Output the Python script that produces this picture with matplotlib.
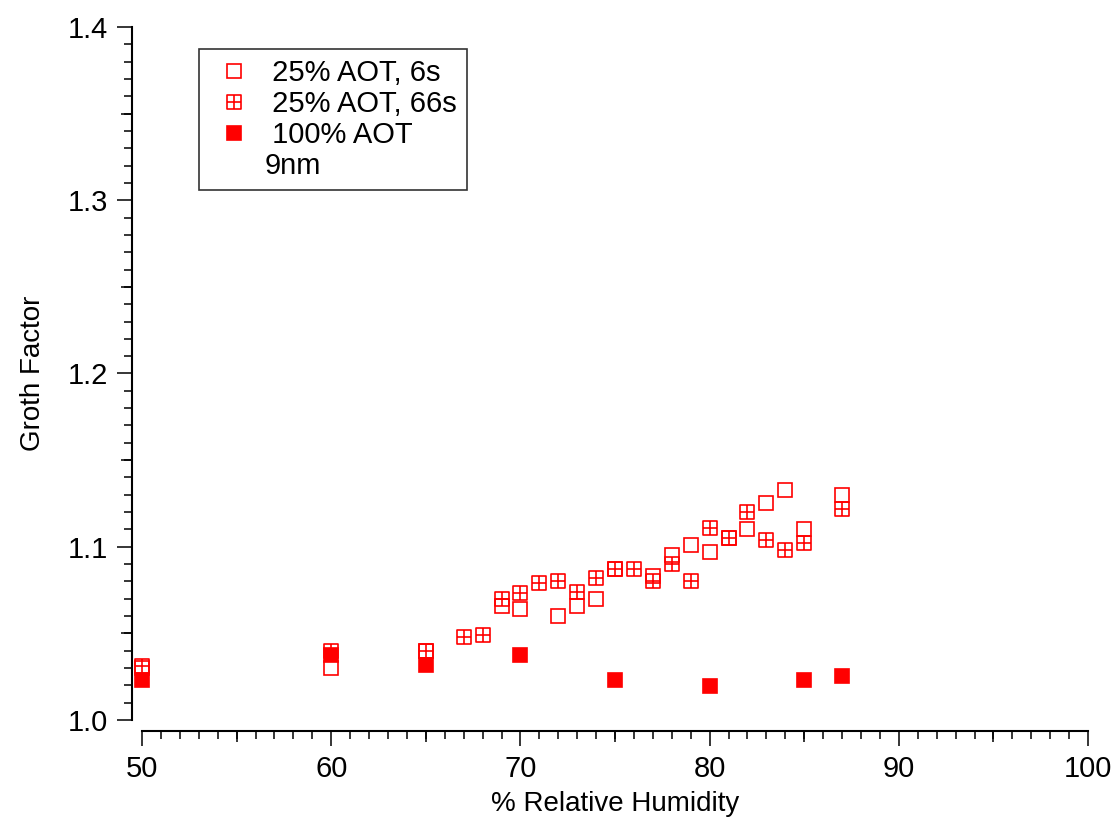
import numpy as np
import matplotlib.pyplot as plt
from matplotlib.path import Path
from matplotlib.lines import Line2D
from matplotlib.ticker import MultipleLocator

plt.rcParams['font.family'] = ['Liberation Sans', 'DejaVu Sans']

# 25% AOT, 6s (open squares)
rh_6s = [50, 60, 65, 69, 70, 72, 73, 74, 75, 77, 78, 79, 80, 81, 82, 83, 84, 85, 87]
gf_6s = [1.030, 1.030, 1.040, 1.066, 1.064, 1.060, 1.066, 1.070, 1.087, 1.083,
         1.095, 1.101, 1.097, 1.105, 1.110, 1.125, 1.133, 1.110, 1.130]

# 25% AOT, 66s (crossed squares)
rh_66s = [50, 60, 65, 67, 68, 69, 70, 71, 72, 73, 74, 75, 76, 77, 78, 79, 80,
          81, 82, 83, 84, 85, 87]
gf_66s = [1.031, 1.040, 1.040, 1.048, 1.049, 1.070, 1.073, 1.079, 1.080, 1.074,
          1.082, 1.087, 1.087, 1.080, 1.090, 1.080, 1.111, 1.105, 1.120, 1.104,
          1.098, 1.102, 1.122]

# 100% AOT (filled squares)
rh_100 = [50, 60, 65, 70, 75, 80, 85, 87]
gf_100 = [1.023, 1.0375, 1.032, 1.0375, 1.023, 1.0196, 1.023, 1.0254]

red = '#ff0000'

# square with a cross inside
verts = [(-1, -1), (1, -1), (1, 1), (-1, 1), (-1, -1),
         (0, -1), (0, 1), (-1, 0), (1, 0)]
codes = [Path.MOVETO, Path.LINETO, Path.LINETO, Path.LINETO, Path.CLOSEPOLY,
         Path.MOVETO, Path.LINETO, Path.MOVETO, Path.LINETO]
cross_sq = Path(verts, codes)

fig = plt.figure(figsize=(11.13, 8.23), dpi=100)
ax = fig.add_axes([0.1276, 0.1252, 0.85, 0.842])

ax.plot(rh_6s, gf_6s, ls='none', marker='s', ms=10.5, mfc='none', mec=red, mew=1.2,
        label=' 25% AOT, 6s', clip_on=False)
ax.plot(rh_66s, gf_66s, ls='none', marker=cross_sq, ms=10.5, mfc='none', mec=red, mew=1.2,
        label=' 25% AOT, 66s', clip_on=False)
ax.plot(rh_100, gf_100, ls='none', marker='s', ms=10.5, mfc=red, mec=red, mew=1.2,
        label=' 100% AOT', clip_on=False)
blank = Line2D([], [], ls='none', marker='none', label='9nm')

ax.set_xlim(50, 100)
ax.set_ylim(1.0, 1.4)

for s in ['top', 'right']:
    ax.spines[s].set_visible(False)
ax.spines['left'].set_position(('outward', 7.2))
ax.spines['bottom'].set_position(('outward', 7.9))
for s in ['left', 'bottom']:
    ax.spines[s].set_linewidth(1.5)

ax.xaxis.set_major_locator(MultipleLocator(10))
ax.xaxis.set_minor_locator(MultipleLocator(1))
ax.yaxis.set_major_locator(MultipleLocator(0.1))
ax.yaxis.set_minor_locator(MultipleLocator(0.01))
ax.tick_params(which='major', direction='out', length=11, width=1.1, labelsize=21, pad=6)
ax.tick_params(which='minor', direction='out', length=6, width=1.1)

# medium ticks at the halves
secx = ax.secondary_xaxis('bottom')
secx.spines['bottom'].set_position(('outward', 7.9))
secx.spines['bottom'].set_visible(False)
secx.set_xticks(np.arange(55, 100, 10))
secx.set_xticklabels([])
secx.tick_params(direction='out', length=8, width=1.1)

secy = ax.secondary_yaxis('left')
secy.spines['left'].set_position(('outward', 7.2))
secy.spines['left'].set_visible(False)
secy.set_yticks(np.arange(1.05, 1.4, 0.1))
secy.set_yticklabels([])
secy.tick_params(direction='out', length=8, width=1.1)

ax.set_yticks([1.0, 1.1, 1.2, 1.3, 1.4])
ax.set_yticklabels(['1.0', '1.1', '1.2', '1.3', '1.4'])

ax.set_xlabel('% Relative Humidity', fontsize=20, labelpad=6)
ax.set_ylabel('Groth Factor', fontsize=20, labelpad=16)

handles, labels = ax.get_legend_handles_labels()
handles.append(blank)
labels.append('9nm')
leg = ax.legend(handles, labels, loc='upper left', bbox_to_anchor=(0.060, 0.968),
                borderaxespad=0, fontsize=21, frameon=True, fancybox=False,
                edgecolor='black', handlelength=1.7, handletextpad=0.2,
                labelspacing=0.1, borderpad=0.35)
leg.get_frame().set_linewidth(1.2)

fig.savefig('out.png', dpi=100)
